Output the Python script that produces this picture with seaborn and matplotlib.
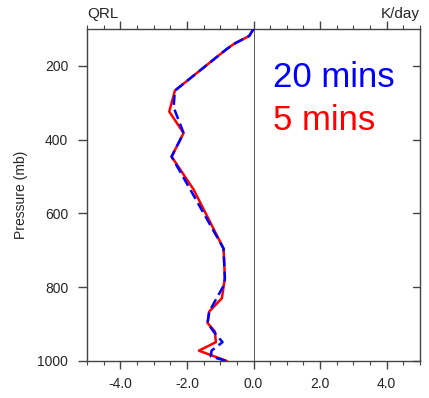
import numpy as np
import pandas as pd
import matplotlib
matplotlib.use("Agg")
import matplotlib.pyplot as plt
import seaborn as sns
from matplotlib.ticker import MultipleLocator
from matplotlib.transforms import offset_copy

sns.set_style("white")
plt.rcParams["font.family"] = ["Liberation Sans", "DejaVu Sans"]

# Longwave heating rate profiles (K/day) against pressure (mb)
p_20 = [100, 119, 140, 154, 267, 312, 382, 446, 535, 695, 775, 793, 866, 897, 920, 949, 972, 988, 1000]
qrl_20 = [0.0, -0.13, -0.58, -0.80, -2.36, -2.40, -2.10, -2.46, -1.90, -0.90, -0.86, -0.88, -1.33, -1.38, -1.20, -0.93, -1.26, -1.28, -0.80]

p_5 = [100, 119, 140, 154, 267, 324, 382, 446, 535, 695, 775, 830, 866, 897, 920, 949, 972, 1000]
qrl_5 = [0.0, -0.13, -0.58, -0.80, -2.36, -2.53, -2.10, -2.46, -1.80, -0.90, -0.86, -0.95, -1.33, -1.38, -1.16, -1.13, -1.64, -0.80]

df = pd.concat([
    pd.DataFrame({"qrl": qrl_5, "p": p_5, "run": "5 mins"}),
    pd.DataFrame({"qrl": qrl_20, "p": p_20, "run": "20 mins"}),
])

W, H = 429, 398
fig = plt.figure(figsize=(W / 100, H / 100), dpi=100)
ax = fig.add_axes([87 / W, 37 / H, 333 / W, 332 / H])

ax.axvline(0, color="#555555", lw=0.7, zorder=1)

sns.lineplot(data=df, x="qrl", y="p", hue="run", style="run",
             palette={"5 mins": "red", "20 mins": "blue"},
             dashes={"5 mins": "", "20 mins": (4, 2)},
             sort=False, estimator=None, linewidth=1.8,
             legend=False, ax=ax, zorder=3)

ax.set_xlim(-5, 5)
ax.set_ylim(1000, 100)
ax.xaxis.set_minor_locator(MultipleLocator(0.5))
ax.set_xticks([-4, -2, 0, 2, 4])
ax.set_xticklabels(["-4.0", "-2.0", "0.0", "2.0", "4.0"])
ax.set_yticks([200, 400, 600, 800, 1000])
ax.set_yticklabels(["200", "400", "600", "800", "1000"])

ax.set_xlabel("")
ax.set_ylabel("Pressure (mb)", fontsize=10, labelpad=7)

edge = "#444444"
for s in ax.spines.values():
    s.set_color(edge)
    s.set_linewidth(1.0)

ax.tick_params(axis="x", which="major", direction="out", length=5.8, width=1,
               color=edge, labelsize=10, pad=6, top=True, bottom=True, labeltop=False)
ax.tick_params(axis="x", which="minor", direction="out", length=2.9, width=0.8,
               color=edge, top=True, bottom=True)
ax.tick_params(axis="y", which="major", direction="out", length=6.5, width=1,
               color=edge, labelsize=10, pad=7, left=True, right=False)
ax.tick_params(axis="y", which="minor", left=False, right=False)

# inward ticks on the right edge
for yv in [200, 400, 600, 800, 1000]:
    ax.plot([1.0, 0.978], [yv, yv], transform=ax.get_yaxis_transform(),
            color=edge, lw=1, clip_on=False)

top_tr = offset_copy(ax.transAxes, fig=fig, x=0, y=11, units="dots")
ax.text(0.0, 1.0, "QRL", transform=top_tr, ha="left", va="baseline", fontsize=11)
ax.text(1.0, 1.0, "K/day", transform=top_tr, ha="right", va="baseline", fontsize=11)

ax.text(273, H - 87, "20 mins", transform=None, color="blue", fontsize=25,
        ha="left", va="baseline")
ax.text(273, H - 130, "5 mins", transform=None, color="red", fontsize=25,
        ha="left", va="baseline")

fig.savefig("out.png", dpi=100)
